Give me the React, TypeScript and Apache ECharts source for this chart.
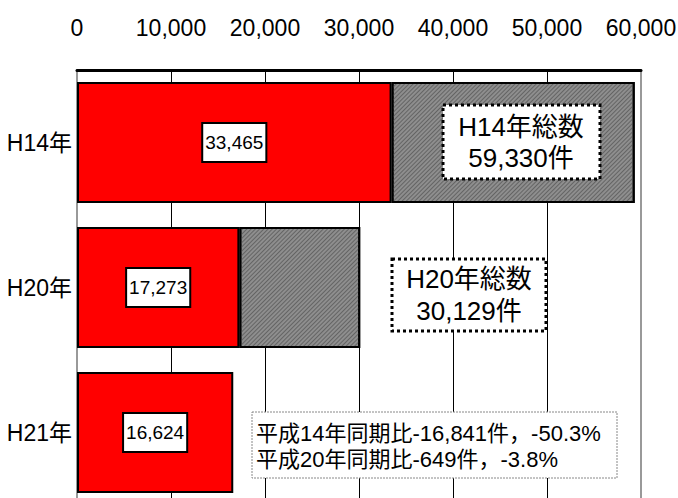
import React, { useEffect, useRef } from "react";
import * as echarts from "echarts";

const categories = ["H14年", "H20年", "H21年"];
const redValues = [33465, 17273, 16624];
const grayValues: (number | string)[] = [25865, 12856, "-"];
const xTicks = { min: 0, max: 60000, interval: 10000 };
const totalNotes = ["H14年総数\n59,330件", "H20年総数\n30,129件"];
const compareNote = "平成14年同期比-16,841件，-50.3%\n平成20年同期比-649件，-3.8%";

const NARROW = "'Liberation Sans Narrow', 'Arial Narrow', 'Liberation Sans', 'Noto Sans CJK JP', sans-serif";
const JP = "'Liberation Sans', 'Noto Sans CJK JP', sans-serif";

export default function App() {
  const ref = useRef<HTMLDivElement>(null);
  useEffect(() => {
    if (!ref.current) return;
    const chart = echarts.init(ref.current, undefined, { renderer: "svg" });
    chart.setOption({
      animation: false,
      backgroundColor: "#ffffff",
      grid: {
        left: 77,
        right: 37,
        top: 70,
        height: 435,
        containLabel: false,
        outerBoundsMode: "none",
        show: true,
        borderColor: "#999999",
        borderWidth: 2,
        backgroundColor: "transparent",
      },
      xAxis: {
        type: "value",
        position: "top",
        min: xTicks.min,
        max: xTicks.max,
        interval: xTicks.interval,
        axisLine: { show: true, lineStyle: { color: "#000", width: 3 } },
        axisTick: { show: false },
        axisLabel: {
          margin: 31,
          fontFamily: NARROW,
          fontSize: 23,
          color: "#000",
          formatter: (v: number) => v.toLocaleString("en-US"),
        },
        splitLine: {
          show: true,
          lineStyle: { color: ["#999", "#000", "#000", "#000", "#000", "#000", "#999"], width: 1 },
        },
      },
      yAxis: {
        type: "category",
        inverse: true,
        data: categories,
        axisLine: { show: true, lineStyle: { color: "#999999", width: 2 } },
        axisTick: { show: false },
        axisLabel: {
          margin: 5,
          fontFamily: NARROW,
          fontSize: 23,
          color: "#000",
        },
      },
      series: [
        {
          type: "bar",
          stack: "total",
          data: redValues,
          barWidth: 121,
          itemStyle: { color: "#ff0000", borderColor: "#000", borderWidth: 2 },
          label: {
            show: true,
            position: "inside",
            formatter: (p: any) => Number(p.value).toLocaleString("en-US"),
            fontFamily: NARROW,
            fontSize: 19,
            lineHeight: 20,
            color: "#000",
            backgroundColor: "#ffffff",
            borderColor: "#000",
            borderWidth: 2,
            padding: [9, 2, 8, 2],
          },
        },
        {
          type: "bar",
          stack: "total",
          data: grayValues,
          barWidth: 121,
          itemStyle: {
            color: "#8e8e8e",
            borderColor: "#000",
            borderWidth: 2,
            decal: {
              symbol: "rect",
              symbolSize: 1,
              dashArrayX: [1, 0],
              dashArrayY: [1, 2],
              rotation: -Math.PI / 4,
              color: "#646464",
            },
          },
        },
      ],
      graphic: [
        {
          type: "rect",
          shape: { x: 443, y: 105, width: 157, height: 74 },
          style: { fill: "#fff", stroke: "#000", lineWidth: 3, lineDash: [3, 3] },
          z: 100,
        },
        {
          type: "text",
          x: 521,
          y: 142,
          z: 101,
          style: {
            text: totalNotes[0],
            fontFamily: JP,
            fontSize: 26,
            lineHeight: 31,
            fill: "#000",
            align: "center",
            verticalAlign: "middle",
          },
        },
        {
          type: "rect",
          shape: { x: 392, y: 259, width: 154, height: 72 },
          style: { fill: "#fff", stroke: "#000", lineWidth: 3, lineDash: [3, 3] },
          z: 100,
        },
        {
          type: "text",
          x: 469,
          y: 295,
          z: 101,
          style: {
            text: totalNotes[1],
            fontFamily: JP,
            fontSize: 26,
            lineHeight: 32,
            fill: "#000",
            align: "center",
            verticalAlign: "middle",
          },
        },
        {
          type: "rect",
          shape: { x: 252, y: 412, width: 365, height: 66 },
          style: { fill: "#fff", stroke: "#888", lineWidth: 1, lineDash: [2, 1] },
          z: 100,
        },
        {
          type: "text",
          x: 256,
          y: 446,
          z: 101,
          style: {
            text: compareNote,
            fontFamily: JP,
            fontSize: 22,
            lineHeight: 26,
            fill: "#000",
            align: "left",
            verticalAlign: "middle",
          },
        },
      ],
    });
    return () => chart.dispose();
  }, []);
  return (
    <div
      ref={ref}
      style={{ position: "fixed", left: 0, top: 0, width: 678, height: 498 }}
    />
  );
}
